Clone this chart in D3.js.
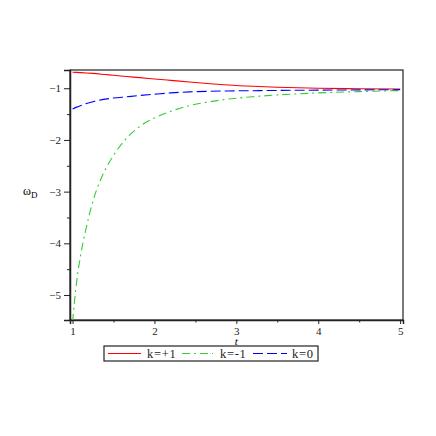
<!DOCTYPE html>
<html><head><meta charset="utf-8">
<script src="https://cdn.jsdelivr.net/npm/d3@7"></script>
<style>body{margin:0;background:#fff}svg{display:block}</style>
</head><body>
<script>
const tValues = [1, 1.05, 1.1, 1.17, 1.25, 1.4, 1.5, 1.66, 1.82, 2, 2.2, 2.43, 2.68, 2.9, 3.2, 3.5, 4, 4.5, 5];
const kPlus1  = [-0.69, -0.693, -0.697, -0.704, -0.713, -0.735, -0.75, -0.772, -0.795, -0.82, -0.848, -0.88, -0.912, -0.937, -0.962, -0.98, -1.0, -1.01, -1.015];
const kMinus1 = [-5.52, -4.74, -4.22, -3.68, -3.18, -2.57, -2.3, -1.965, -1.74, -1.575, -1.445, -1.335, -1.26, -1.21, -1.165, -1.13, -1.09, -1.065, -1.045];
const kZero   = [-1.40, -1.365, -1.335, -1.295, -1.26, -1.21, -1.19, -1.165, -1.14, -1.115, -1.09, -1.07, -1.058, -1.052, -1.047, -1.042, -1.037, -1.032, -1.027];
const xTicks = [1, 2, 3, 4, 5];
const yTicks = [-1, -2, -3, -4, -5];
const legendLabels = ["k=+1", "k=-1", "k=0"];

const W = 436, H = 436;
const L = 70, R = 403, T = 70, B = 320;
const svg = d3.select("body").append("svg").attr("width", W).attr("height", H);
const x = d3.scaleLinear().domain([0.969, 5.035]).range([L, R]);
const y = d3.scaleLinear().domain([-0.647, -5.483]).range([T, B]);
const font = "'Liberation Serif','Times New Roman',serif";

svg.append("clipPath").attr("id", "clip").append("rect")
  .attr("x", L).attr("y", T).attr("width", R - L).attr("height", B - T);

// frame
svg.append("rect").attr("x", L).attr("y", T).attr("width", R - L).attr("height", B - T)
  .attr("fill", "none").attr("stroke", "#222").attr("stroke-width", 1.2);

// axes
const minorX = d3.range(1.5, 5, 1);
const minorY = d3.range(-1.5, -5.5, -1);
const xAxis = d3.axisBottom(x).tickValues(xTicks).tickSize(4).tickFormat(d3.format("d"));
const gx = svg.append("g").attr("transform", `translate(0,${B})`).call(xAxis);
gx.select(".domain").attr("stroke", "#222").attr("stroke-width", 1.5);
gx.selectAll(".tick line").attr("stroke", "#222");
gx.selectAll("text").attr("font-family", font).attr("font-size", 11).attr("fill", "#222")
  .attr("y", 14.5).attr("dy", 0);
svg.append("g").attr("transform", `translate(0,${B})`)
  .call(d3.axisBottom(x).tickValues(minorX).tickSize(2.5).tickFormat(""))
  .call(g => g.select(".domain").remove()).selectAll("line").attr("stroke", "#222");

const yAxis = d3.axisLeft(y).tickValues(yTicks).tickSize(6).tickFormat(d => "\u2212" + Math.abs(d));
const gy = svg.append("g").attr("transform", `translate(${L},0)`).call(yAxis);
gy.select(".domain").attr("stroke", "#222").attr("stroke-width", 1.5);
gy.selectAll(".tick line").attr("stroke", "#222");
gy.selectAll("text").attr("font-family", font).attr("font-size", 11).attr("fill", "#222").attr("x", -9);
svg.append("g").attr("transform", `translate(${L},0)`)
  .call(d3.axisLeft(y).tickValues(minorY).tickSize(3).tickFormat(""))
  .call(g => g.select(".domain").remove()).selectAll("line").attr("stroke", "#222");

// axis labels
svg.append("text").attr("x", x(3)).attr("y", 345).attr("text-anchor", "middle")
  .attr("font-family", font).attr("font-style", "italic").attr("font-size", 11).text("t");
const yl = svg.append("text").attr("x", 23).attr("y", 195).attr("font-family", font).attr("font-size", 12);
yl.append("tspan").text("\u03c9");
yl.append("tspan").attr("font-size", 9).attr("dy", 3).text("D");

// series
const series = [
  {vals: kPlus1, color: "#ff0000", dash: null},
  {vals: kMinus1, color: "#33cc33", dash: "8,4,2,4"},
  {vals: kZero, color: "#0000ff", dash: "10,4"}
];
const line = d3.line().x(d => x(d[0])).y(d => y(d[1])).curve(d3.curveMonotoneX);
const plot = svg.append("g").attr("clip-path", "url(#clip)");
series.forEach(s => {
  plot.append("path").datum(tValues.map((t, i) => [t, s.vals[i]]))
    .attr("d", line).attr("fill", "none").attr("stroke", s.color)
    .attr("stroke-width", 1.1).attr("stroke-dasharray", s.dash);
});

// legend
svg.append("rect").attr("x", 104).attr("y", 346).attr("width", 214).attr("height", 15)
  .attr("fill", "#fff").attr("stroke", "#222").attr("stroke-width", 1.2);
const legX = [[108, 141, 147], [182, 213, 220], [253, 287, 292]];
series.forEach((s, i) => {
  svg.append("line").attr("x1", legX[i][0]).attr("x2", legX[i][1]).attr("y1", 353.5).attr("y2", 353.5)
    .attr("stroke", s.color).attr("stroke-width", 1.1).attr("stroke-dasharray", s.dash);
  svg.append("text").attr("x", legX[i][2]).attr("y", 357.5).attr("font-family", font)
    .attr("font-size", 12.5).attr("letter-spacing", 0.7).attr("fill", "#222").text(legendLabels[i]);
});
</script>
</body></html>
